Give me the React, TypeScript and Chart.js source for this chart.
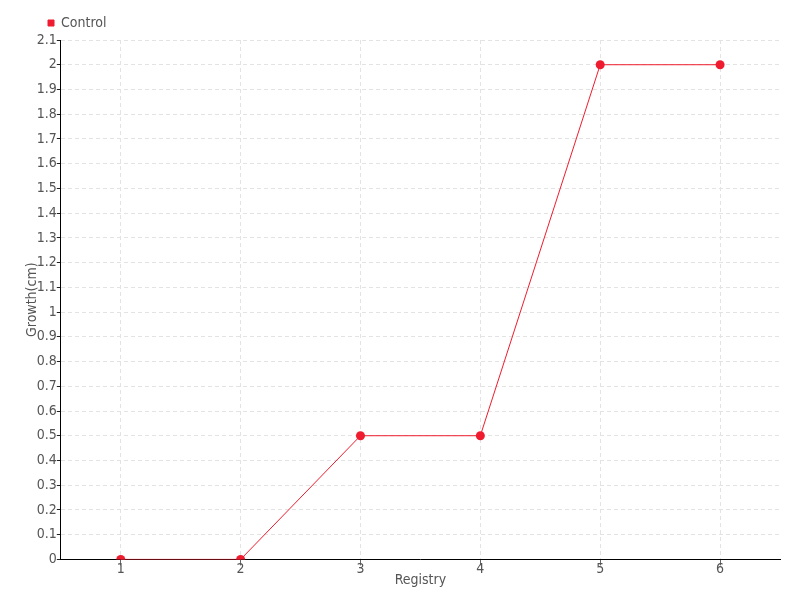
import React, { useEffect, useRef } from "react";
import { Chart, registerables } from "chart.js";

Chart.register(...registerables);

const categories = ["1", "2", "3", "4", "5", "6"];
const controlValues = [0, 0, 0.5, 0.5, 2, 2];
const seriesName = "Control";
const xTitle = "Registry";
const yTitle = "Growth(cm)";

const FONT = "'DejaVu Sans', sans-serif";
const WEIGHT: any = "normal condensed";
const SIZE = 14;
const RED = "#ee1c2e";
const TXT = "#555";

const legendShift = {
  id: "legendShift",
  afterLayout(chart: any) {
    if (chart.legend) {
      chart.legend.left += 13;
    }
  },
};

export default function App() {
  const ref = useRef<HTMLCanvasElement | null>(null);
  useEffect(() => {
    if (!ref.current) return;
    const font = { family: FONT, size: SIZE, weight: WEIGHT };
    const chart = new Chart(ref.current, {
      type: "line",
      data: {
        labels: categories,
        datasets: [
          {
            label: seriesName,
            data: controlValues,
            borderColor: RED,
            backgroundColor: RED,
            borderWidth: 1,
            pointRadius: 4.5,
            pointHoverRadius: 4.5,
            pointBackgroundColor: RED,
            pointBorderColor: RED,
            pointBorderWidth: 0,
            tension: 0,
          },
        ],
      },
      plugins: [legendShift],
      options: {
        animation: false,
        responsive: false,
        maintainAspectRatio: false,
        layout: { padding: { left: 24, right: 20, top: 5, bottom: 11 } },
        plugins: {
          legend: {
            position: "top",
            align: "start",
            labels: {
              boxWidth: 6,
              boxHeight: 6,
              padding: 11,
              color: TXT,
              font,
            },
          },
          tooltip: { enabled: false },
        },
        scales: {
          x: {
            type: "category",
            offset: true,
            title: {
              display: true,
              text: xTitle,
              color: TXT,
              font,
              padding: { top: -2, bottom: 0 },
            },
            grid: {
              offset: false,
              color: "#e3e3e3",
              tickColor: "#666",
              tickLength: 6,
              drawTicks: true,
            },
            border: { display: true, color: "#000", width: 1, dash: [4, 3] },
            ticks: {
              color: TXT,
              font,
              padding: -4,
            },
          },
          y: {
            min: 0,
            max: 2.1,
            title: {
              display: true,
              text: yTitle,
              color: TXT,
              font,
              padding: { top: 0, bottom: -4 },
            },
            grid: {
              color: "#e3e3e3",
              tickColor: "#222",
              tickLength: 4,
            },
            border: { display: true, color: "#000", width: 1, dash: [4, 3] },
            ticks: {
              stepSize: 0.1,
              color: TXT,
              font,
              padding: 0,
              autoSkip: false,
              callback: (v: any) => String(Number(Number(v).toFixed(1))),
            },
          },
        },
      },
    });
    return () => chart.destroy();
  }, []);
  return (
    <div style={{ position: "absolute", left: 0, top: 0, width: 800, height: 600, background: "#fff" }}>
      <canvas ref={ref} width={800} height={600} style={{ width: 800, height: 600 }} />
    </div>
  );
}
